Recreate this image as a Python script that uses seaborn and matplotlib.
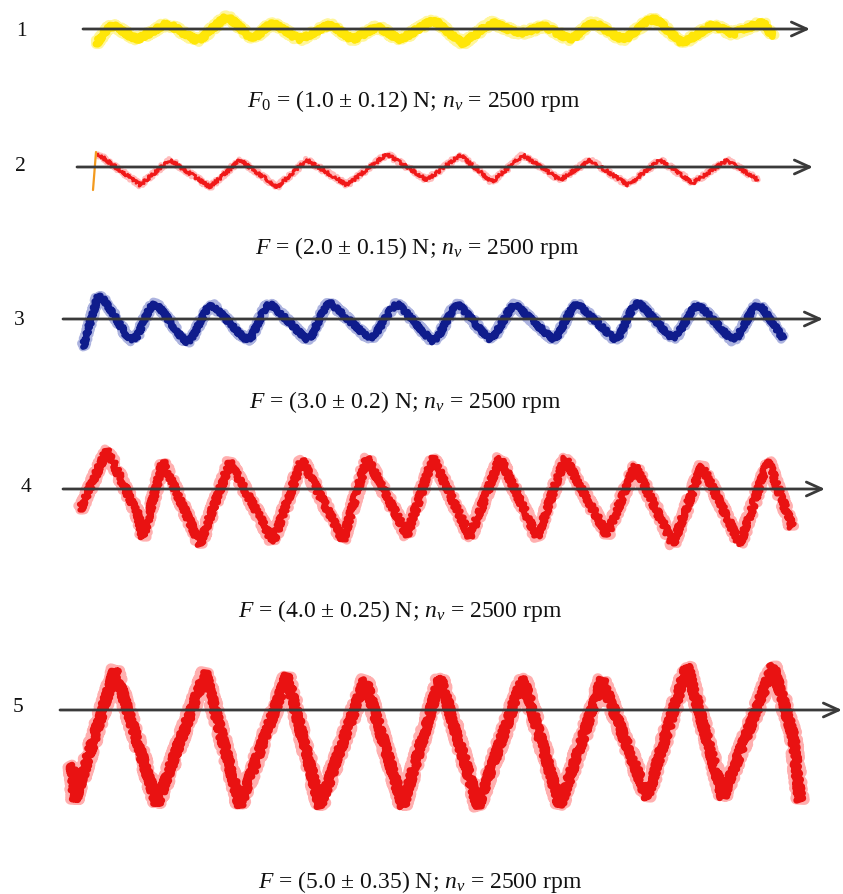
import matplotlib
matplotlib.use("Agg")
import matplotlib.pyplot as plt
import seaborn as sns
import pandas as pd

# ---------------- data (time units, signal units) -------------
w1_t = [9.6, 10.8, 11.3, 11.8, 13.2, 13.7, 14.2, 16.2, 16.7, 17.2, 19.2, 19.7, 20.2,
        22.2, 22.7, 23.2, 24.8, 25.3, 25.8, 26.8, 27.3, 27.8, 29.5, 30.0, 30.5, 32.5,
        33.0, 33.5, 34.8, 35.3, 35.8, 37.2, 37.7, 38.2, 39.5, 40.0, 40.5, 42.8, 43.3,
        43.8, 45.8, 46.3, 46.8, 48.8, 49.3, 49.8, 51.5, 52.0, 52.5, 53.8, 54.3, 54.8,
        56.5, 57.0, 57.5, 58.8, 59.3, 59.8, 61.8, 62.3, 62.8, 64.8, 65.3, 65.8, 67.8,
        68.3, 68.8, 70.9, 71.3, 71.7, 72.9, 73.3, 73.7, 75.5, 76.0, 76.5, 77.3]
w1_y = [-1.5, 0.1, 0.3, 0.1, -0.8, -1.0, -0.8, 0.3, 0.5, 0.3, -0.9, -1.1, -0.9,
        0.9, 1.2, 0.9, -0.6, -0.8, -0.6, 0.3, 0.5, 0.3, -0.8, -1.0, -0.8, 0.2,
        0.4, 0.2, -0.8, -1.0, -0.8, 0.0, 0.2, 0.0, -0.8, -1.0, -0.8, 0.6, 0.8,
        0.6, -1.1, -1.4, -1.1, 0.4, 0.6, 0.4, -0.3, -0.5, -0.3, 0.1, 0.3, 0.1,
        -0.8, -1.0, -0.8, 0.4, 0.6, 0.4, -0.8, -1.0, -0.8, 0.8, 1.0, 0.8, -1.1,
        -1.4, -1.1, 0.2, 0.4, 0.2, -0.3, -0.5, -0.3, 0.4, 0.6, 0.4, -0.7]

w2_start_t = [9.3, 9.6]
w2_start_y = [-2.3, 1.5]
w2_t = [9.8, 14.0, 17.0, 21.0, 24.0, 27.7, 30.7, 34.7, 38.7, 42.7, 46.0, 49.2, 52.3, 56.0,
        59.0, 62.8, 66.0, 69.3, 72.7, 75.8]
w2_y = [1.3, -1.8, 0.7, -2.0, 0.7, -2.0, 0.7, -1.8, 1.3, -1.3, 1.2, -1.5, 1.2, -1.3,
        0.7, -1.8, 0.7, -1.6, 0.7, -1.3]

w3_t = [8.3, 9.8, 10.5, 12.7, 13.2, 13.7, 15.0, 15.5, 16.0, 18.2, 18.7, 19.2, 20.7, 21.2,
        21.7, 24.2, 24.7, 25.2, 26.5, 27.0, 27.5, 30.2, 30.7, 31.2, 32.5, 33.0, 33.5,
        36.5, 37.0, 37.5, 39.2, 39.7, 40.2, 42.8, 43.3, 43.8, 45.3, 45.8, 46.3, 48.5,
        49.0, 49.5, 51.0, 51.5, 52.0, 54.8, 55.3, 55.8, 57.2, 57.7, 58.2, 61.0, 61.5,
        62.0, 63.3, 63.8, 64.3, 66.8, 67.3, 67.8, 69.3, 69.8, 70.3, 72.8, 73.3, 73.8,
        75.3, 75.8, 76.3, 78.3]
w3_y = [-2.8, 2.3, 1.8, -1.7, -2.1, -1.7, 1.1, 1.5, 1.1, -1.9, -2.3, -1.9, 1.0, 1.4,
        1.0, -1.7, -2.1, -1.7, 1.1, 1.5, 1.1, -1.6, -2.0, -1.6, 1.2, 1.6, 1.2,
        -1.6, -2.0, -1.6, 1.1, 1.5, 1.1, -1.8, -2.2, -1.8, 1.0, 1.4, 1.0, -1.6,
        -2.0, -1.6, 1.0, 1.4, 1.0, -1.6, -2.0, -1.6, 1.1, 1.5, 1.1, -1.6, -2.0,
        -1.6, 1.2, 1.6, 1.2, -1.5, -1.9, -1.5, 1.0, 1.4, 1.0, -1.7, -2.1, -1.7,
        1.0, 1.4, 1.0, -1.9]

w4_t = [8.0, 10.7, 13.8, 14.3, 16.3, 20.0, 23.0, 27.3, 30.2, 34.3, 36.7, 40.7, 43.3, 47.0,
        50.0, 53.7, 56.5, 60.7, 63.5, 67.3, 70.2, 74.0, 76.8, 79.2]
w4_y = [-2.1, 3.9, -2.6, -4.8, 2.7, -5.5, 2.7, -5.3, 2.9, -5.1, 3.1, -4.6, 3.1, -4.8,
        3.1, -4.8, 3.1, -4.6, 2.3, -5.5, 2.3, -5.5, 2.8, -3.8]

w5_t = [7.2, 7.5, 11.5, 15.7, 20.5, 24.0, 28.7, 32.0, 36.5, 40.3, 44.0, 47.8, 52.3, 56.0,
        60.2, 64.7, 68.7, 72.3, 77.3, 79.3, 80.0]
w5_y = [-5.5, -9.0, 4.0, -9.4, 3.7, -9.5, 3.4, -9.6, 3.0, -9.6, 3.2, -9.6, 3.2, -9.6,
        3.0, -8.7, 4.4, -8.7, 4.4, -2.5, -9.0]

panel_labels = ["1", "2", "3", "4", "5"]
captions = [
    r"$F_0$ = (1.0 ± 0.12) N; $n_v$ = 2500 rpm",
    r"$F$ = (2.0 ± 0.15) N; $n_v$ = 2500 rpm",
    r"$F$ = (3.0 ± 0.2) N; $n_v$ = 2500 rpm",
    r"$F$ = (4.0 ± 0.25) N; $n_v$ = 2500 rpm",
    r"$F$ = (5.0 ± 0.35) N; $n_v$ = 2500 rpm",
]

# ---------------- style / layout ----------------
sns.set_theme(style="white")
plt.rcParams["font.family"] = ["Liberation Serif", "DejaVu Serif"]
plt.rcParams["mathtext.fontset"] = "custom"
plt.rcParams["mathtext.rm"] = "Liberation Serif"
plt.rcParams["mathtext.it"] = "Liberation Serif:italic"

W, H = 843, 894
fig = plt.figure(figsize=(W / 100, H / 100), dpi=100)
fig.patch.set_facecolor("white")

HALF = 110  # px half height of each panel axes
XMAX = W / 10.0

panels = [
    dict(t=w1_t, y=w1_y, yc=29, arrow=(8.3, 81.0), core="#FFE600", halo="#FFEE3A",
         lw=5.0, hlw=7.2, sk=(2.0, 2.5, 3), label_xy=(21, 31), cap_xy=(414, 107)),
    dict(t=w2_t, y=w2_y, yc=167, arrow=(7.7, 81.3), core="#F01010", halo="#FF7A7A",
         lw=2.0, hlw=3.8, sk=(1.6, 2.0, 3), label_xy=(20, 167), cap_xy=(417, 254)),
    dict(t=w3_t, y=w3_y, yc=319, arrow=(6.3, 82.3), core="#061488", halo="#5A68C0",
         lw=4.2, hlw=6.4, sk=(2.0, 2.5, 3), label_xy=(19, 320), cap_xy=(405, 408)),
    dict(t=w4_t, y=w4_y, yc=489, arrow=(6.3, 82.5), core="#E80A0A", halo="#FF6060",
         lw=3.8, hlw=6.6, sk=(3.0, 2.5, 3), label_xy=(26, 487), cap_xy=(400, 617)),
    dict(t=w5_t, y=w5_y, yc=710, arrow=(6.0, 84.2), core="#E80A0A", halo="#FF6060",
         lw=4.8, hlw=7.8, sk=(3.4, 2.5, 3), label_xy=(18, 707), cap_xy=(420, 888)),
]

for i, p in enumerate(panels):
    ax = fig.add_axes([0, (H - p["yc"] - HALF) / H, 1, 2 * HALF / H])
    ax.set_xlim(0, XMAX)
    ax.set_ylim(-HALF / 10, HALF / 10)
    ax.axis("off")
    ax.patch.set_alpha(0)

    df = pd.DataFrame({"t": p["t"], "y": p["y"]})
    # faint halo
    sns.lineplot(data=df, x="t", y="y", ax=ax, color=p["halo"], linewidth=p["hlw"],
                 alpha=0.5, estimator=None, sort=False, legend=False)
    ln = ax.lines[-1]
    ln.set_sketch_params(p["sk"][0] * 1.3, p["sk"][1] + 1, p["sk"][2])
    ln.set_solid_joinstyle("round")
    ln.set_solid_capstyle("round")
    # core trace
    sns.lineplot(data=df, x="t", y="y", ax=ax, color=p["core"], linewidth=p["lw"],
                 alpha=0.95, estimator=None, sort=False, legend=False)
    ln = ax.lines[-1]
    ln.set_sketch_params(*p["sk"])
    ln.set_solid_joinstyle("round")
    ln.set_solid_capstyle("round")

    if i == 1:
        sdf = pd.DataFrame({"t": w2_start_t, "y": w2_start_y})
        sns.lineplot(data=sdf, x="t", y="y", ax=ax, color="#F39A1E", linewidth=1.6,
                     estimator=None, sort=False, legend=False)

    # axis arrow
    ax.annotate("", xy=(p["arrow"][1], 0), xytext=(p["arrow"][0], 0),
                arrowprops=dict(arrowstyle="->,head_length=0.55,head_width=0.25",
                                color="#3a3a3a", lw=2.0, shrinkA=0, shrinkB=0,
                                mutation_scale=20),
                zorder=10)

    lx, ly = p["label_xy"]
    fig.text(lx / W, 1 - ly / H, panel_labels[i], ha="center", va="center",
             fontsize=15.5, color="#111111")
    cx, cy = p["cap_xy"]
    fig.text(cx / W, 1 - cy / H, captions[i], ha="center", va="baseline",
             fontsize=17, color="#111111")

fig.savefig("out.png", dpi=100)
